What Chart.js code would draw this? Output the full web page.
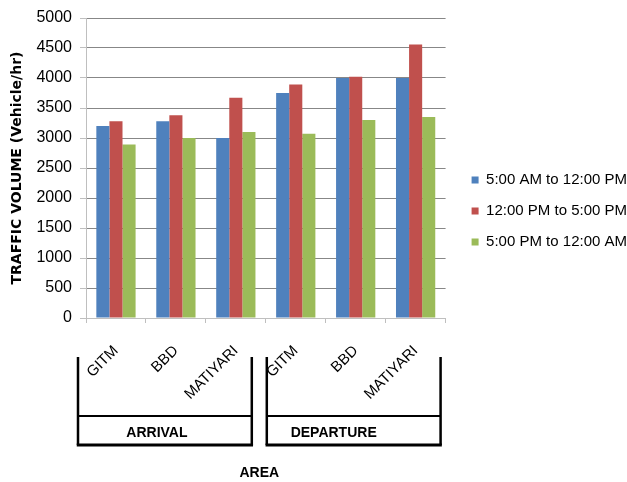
<!DOCTYPE html>
<html>
<head>
<meta charset="utf-8">
<style>
  html, body { margin: 0; padding: 0; background: #ffffff; }
  #wrap { width: 627px; height: 482px; }
</style>
<script src="https://cdn.jsdelivr.net/npm/chart.js@4/dist/chart.umd.min.js"></script>
</head>
<body>
<div id="wrap"><canvas id="chart" width="627" height="482"></canvas></div>
<script>
// Survey locations, grouped by traffic direction
const areas = ['GITM', 'BBD', 'MATIYARI', 'GITM', 'BBD', 'MATIYARI'];
const directions = ['ARRIVAL', 'DEPARTURE'];
const seriesNames = ['5:00 AM to 12:00 PM', '12:00 PM to 5:00 PM', '5:00 PM to 12:00 AM'];

// Traffic volume (vehicles per hour) per time window
const morningVolume   = [3200, 3280, 3000, 3750, 4000, 4000];
const afternoonVolume = [3280, 3380, 3670, 3890, 4020, 4560];
const nightVolume     = [2890, 3000, 3100, 3070, 3300, 3350];

const yTickValues = [0, 500, 1000, 1500, 2000, 2500, 3000, 3500, 4000, 4500, 5000];

const seriesColors = ['#4F81BD', '#C0504D', '#9BBB59'];
const seriesValues = [morningVolume, afternoonVolume, nightVolume];

const baseFont = 'Liberation Sans';

// Draws the ARRIVAL / DEPARTURE brackets under the category labels and the axis title "AREA"
const groupBrackets = {
  id: 'groupBrackets',
  afterDraw(chart) {
    const ctx = chart.ctx;
    const xs = chart.scales.x;
    const base = chart.chartArea.bottom;
    const perGroup = areas.length / directions.length;
    const step = xs.getPixelForValue(1) - xs.getPixelForValue(0);
    const insets = [[-8, -14], [1, -5]];
    const topY = base + 39, midY = base + 98, botY = base + 127;
    let minL = Infinity, maxR = -Infinity;

    ctx.save();
    ctx.strokeStyle = '#000';
    ctx.fillStyle = '#000';
    directions.forEach((name, g) => {
      const first = g * perGroup, last = first + perGroup - 1;
      const l = xs.getPixelForValue(first) - step / 2 + insets[g][0];
      const r = xs.getPixelForValue(last) + step / 2 + insets[g][1];
      minL = Math.min(minL, l); maxR = Math.max(maxR, r);

      ctx.lineWidth = 2.5;
      ctx.beginPath();
      ctx.moveTo(l, topY); ctx.lineTo(l, botY);
      ctx.moveTo(r, topY); ctx.lineTo(r, botY);
      ctx.stroke();

      ctx.lineWidth = 2;
      ctx.beginPath();
      ctx.moveTo(l, midY); ctx.lineTo(r, midY);
      ctx.stroke();

      ctx.lineWidth = 3;
      ctx.beginPath();
      ctx.moveTo(l - 1.25, botY); ctx.lineTo(r + 1.25, botY);
      ctx.stroke();

      ctx.font = 'bold 14px "' + baseFont + '"';
      ctx.textAlign = 'center';
      ctx.textBaseline = 'middle';
      ctx.fillText(name, (l + r) / 2 - 8 - g * 12, base + 115);
    });

    ctx.font = 'bold 14px "' + baseFont + '"';
    ctx.textAlign = 'center';
    ctx.textBaseline = 'middle';
    ctx.fillText('AREA', (minL + maxR) / 2, base + 155);
    ctx.restore();
  }
};

new Chart(document.getElementById('chart'), {
  type: 'bar',
  data: {
    labels: areas,
    datasets: seriesNames.map((name, i) => ({
      label: name,
      data: seriesValues[i],
      backgroundColor: seriesColors[i],
      borderWidth: 0,
      categoryPercentage: 0.655,
      barPercentage: 1.0
    }))
  },
  options: {
    responsive: false,
    animation: false,
    devicePixelRatio: 1,
    layout: { padding: { top: 18, bottom: 78, left: 0, right: -10 } },
    plugins: {
      legend: {
        position: 'right',
        maxWidth: 220,
        labels: {
          boxWidth: 7,
          boxHeight: 7,
          padding: 16,
          color: '#000',
          font: { family: baseFont, size: 15 }
        }
      },
      tooltip: { enabled: false }
    },
    scales: {
      x: {
        grid: { offset: true, drawOnChartArea: false, tickLength: 5, tickColor: '#bfbfbf' },
        border: { color: '#bfbfbf' },
        ticks: {
          autoSkip: false,
          minRotation: 45,
          maxRotation: 45,
          padding: 19,
          color: '#000',
          font: { family: baseFont, size: 15 }
        },
        afterFit(scale) { scale.height = 86; }
      },
      y: {
        min: 0,
        max: 5000,
        afterBuildTicks(scale) { scale.ticks = yTickValues.map(v => ({ value: v })); },
        ticks: {
          padding: 8,
          color: '#000',
          font: { family: baseFont, size: 16 },
          callback: (value) => String(value)
        },
        grid: { color: '#878787', tickLength: 6, tickColor: '#bfbfbf' },
        border: { color: '#bfbfbf' },
        title: {
          display: true,
          text: 'TRAFFIC VOLUME (Vehicle/hr)',
          color: '#000',
          font: { family: 'DejaVu Sans', weight: 'bold', size: 14 },
          padding: { top: 9, bottom: 0 }
        },
        afterFit(scale) { scale.width = 86; }
      },
      spacer: {
        type: 'linear',
        position: 'right',
        grid: { display: false },
        border: { display: false },
        ticks: { display: false },
        afterFit(scale) { scale.width = 10; }
      }
    }
  },
  plugins: [groupBrackets]
});
</script>
</body>
</html>
